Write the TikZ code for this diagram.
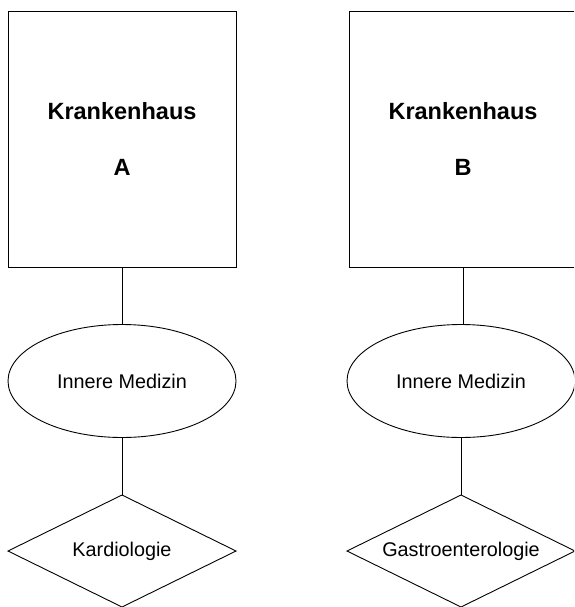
\documentclass[tikz,border=0pt]{standalone}
\usepackage{fontspec}
\setmainfont{Liberation Sans}
\usetikzlibrary{shapes.geometric}
\begin{document}
\begin{tikzpicture}[x=1pt,y=-1pt,
  every node/.style={inner sep=0pt,outer sep=0pt},
  line/.style={draw=black,line width=0.9pt},
  house/.style={line,rectangle,minimum width=228pt,minimum height=256pt,
    align=center,font=\fontsize{23.5}{56}\selectfont\bfseries},
  dept/.style={line,ellipse,minimum width=228pt,minimum height=113pt,
    font=\fontsize{19.8}{24}\selectfont},
  % the diamond keeps its size; its text is set as a centred label
  unit/.style={line,diamond,minimum width=228pt,minimum height=112pt,
    label={[font=\fontsize{19.8}{24}\selectfont]center:#1}},
  link/.style={line}]
\useasboundingbox (0,0) rectangle (574,607);
\clip (0,0) rectangle (574,607);
\fill[white] (0,0) rectangle (574,607);

% Hospital A
\node[house] (hA) at (122,139) {Krankenhaus\\A};
\node[dept]  (mA) at (122,381) {Innere Medizin};
\node[unit=Kardiologie] (kA) at (122,551) {};
\draw[link] (hA.south) -- (mA.north);
\draw[link] (mA.south) -- (kA.north);

% Hospital B
\node[house] (hB) at (463,139) {Krankenhaus\\B};
\node[dept]  (mB) at (461,381) {Innere Medizin};
\node[unit=Gastroenterologie] (gB) at (461,551) {};
\draw[link] (hB.south) -- (mB.north -| hB.south);
\draw[link] (mB.south) -- (gB.north);
\end{tikzpicture}
\end{document}
